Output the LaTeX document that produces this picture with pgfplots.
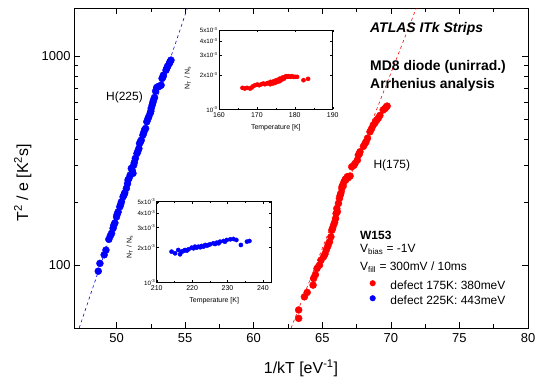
\documentclass[border=0pt]{standalone}
\usepackage{fontspec}
\setmainfont{Liberation Sans}
\usepackage{pgfplots}
\pgfplotsset{compat=1.18}
\definecolor{pred}{RGB}{255,0,0}
\definecolor{pblue}{RGB}{0,0,255}
\begin{document}
\begin{tikzpicture}
\begin{axis}[
  at={(0bp,0bp)}, anchor=south west,
  scale only axis, width=454bp, height=320bp,
  xmin=46.9, xmax=80, ymode=log, ymin=50, ymax=1700,
  xtick={50,55,...,80}, minor x tick num=1,
  ytick={100,1000}, yticklabels={100,1000},
  /pgf/number format/assume math mode=true,
  tick label style={font=\fontsize{13}{15}\selectfont},
  xticklabel style={yshift=-2bp},
  xlabel={1/kT [eV\textsuperscript{-1}]},
  ylabel={T\textsuperscript{2} / e [K\textsuperscript{2}s]},
  label style={font=\fontsize{16}{19}\selectfont},
  xlabel style={at={(axis description cs:0.5,-0.125)}, anchor=center},
  ylabel style={at={(axis description cs:-0.113,0.454)}, anchor=center},
  axis line style={line width=0.9pt},
  every tick/.style={line width=0.6pt, black},
  major tick length=6bp, minor tick length=4bp,
  legend style={draw=none, fill=none, at={(0.635,0.153)}, anchor=north west,
    inner sep=0pt, row sep=0bp, font=\fontsize{12}{14}\selectfont,
    nodes={inner sep=0.5bp, text height=10bp, text depth=4bp}},
  legend cell align=left,
  legend image code/.code={\draw[mark repeat=2,mark phase=2,#1,mark size=2.8bp] plot coordinates {(0bp,3.5bp)(10bp,3.5bp)(27bp,3.5bp)}; \path (0bp,0bp) (27bp,0bp);},
]
\addplot[pred, dashed, dash pattern=on 3bp off 3bp, line width=0.6pt, forget plot] coordinates {(62.73,50) (71.86,1700)};
\addplot[pblue, dashed, dash pattern=on 3bp off 3bp, line width=0.6pt, forget plot] coordinates {(47.28,50) (55.17,1700)};
\addplot[only marks, mark=*, mark size=3.5bp, pred] coordinates {
(63.28,55.6) (63.28,61.0) (63.70,70.5) (63.9,74) (64.33,80.2) (64.37,86.3) (64.5,90) (64.62,96.4) (64.8,100)
(64.91,105.6) (65.10,109.7) (65.2,113) (65.29,118) (65.39,122.5) (65.45,126) (65.53,129.4) (65.63,136.6)
(65.70,146.9) (65.75,150) (65.82,155.2) (65.9,160) (65.97,167.1) (66.01,176.6) (66.1,180) (66.06,186.6)
(66.18,197.3) (66.25,208.5) (66.3,215) (66.35,220.4) (66.43,232.9) (66.45,238) (66.50,241.5) (66.59,250.5)
(66.67,255.4) (66.7,258) (66.83,264.9) (66.9,262) (67.03,266.9) (67.15,295.4) (67.3,300) (67.39,306.6)
(67.56,318) (67.63,335.9) (67.7,340) (67.75,348.6) (68.0,370) (68.12,382) (68.19,389) (68.3,405)
(68.48,434.5) (68.6,450) (68.72,467.9) (68.85,480) (68.96,494.5) (69.08,503.7) (69.2,520) (69.44,552.5)
(69.55,560) (69.64,568.5) (69.73,576.8)};
\addlegendentry{defect 175K: 380meV}
\addplot[only marks, mark=*, mark size=3.5bp, pblue] coordinates {
(48.67,93.5) (48.79,101.9) (49.1,112) (49.23,118) (49.44,132.8) (49.55,138) (49.64,141.9) (49.75,150)
(49.8,155) (49.88,159.2) (50.00,170.2) (50.05,175) (50.12,179.8) (50.24,190.1) (50.3,195) (50.36,201)
(50.48,212.4) (50.55,217) (50.60,221.9) (50.72,232.9) (50.8,245) (50.84,255.4) (50.91,260.2) (51.0,270)
(51.08,290.4) (51.15,283) (51.20,274.8) (51.25,300.6) (51.3,310) (51.37,324.2) (51.49,342) (51.55,350)
(51.63,361.4) (51.68,382) (51.75,390) (51.80,396.3) (51.92,418.8) (51.98,430) (52.04,442.6) (52.12,450.8)
(52.21,485.3) (52.28,500) (52.35,512.6) (52.45,532) (52.5,545) (52.53,562.6) (52.60,583.2) (52.65,600)
(52.69,615.2) (52.77,634) (52.85,680) (52.93,708) (53.05,715) (53.13,718) (53.25,726) (53.32,782)
(53.38,795) (53.42,811) (53.61,857) (53.68,880) (53.73,896) (53.85,922) (53.9,940) (53.97,957)};
\addlegendentry{defect 225K: 443meV}
\end{axis}
% annotations (frame-relative positions)
\node[anchor=west, font=\fontsize{14}{16}\selectfont\bfseries\itshape, inner sep=0pt] at (296bp,298.7bp) {ATLAS ITk Strips};
\node[anchor=west, font=\fontsize{14}{16}\selectfont\bfseries, inner sep=0pt] at (296bp,261.3bp) {MD8 diode (unirrad.)};
\node[anchor=west, font=\fontsize{14}{16}\selectfont\bfseries, inner sep=0pt] at (296bp,243bp) {Arrhenius analysis};
\node[anchor=west, font=\fontsize{12}{14}\selectfont, inner sep=0pt] at (32bp,230.7bp) {H(225)};
\node[anchor=west, font=\fontsize{12}{14}\selectfont, inner sep=0pt] at (299.3bp,163bp) {H(175)};
\node[anchor=west, font=\fontsize{12}{14}\selectfont\bfseries, inner sep=0pt] at (286bp,93bp) {W153};
\node[anchor=west, font=\fontsize{12}{14}\selectfont, inner sep=0pt] at (286bp,78.7bp) {V\textsubscript{bias} = -1V};
\node[anchor=west, font=\fontsize{12}{14}\selectfont, inner sep=0pt] at (286bp,60.7bp) {V\textsubscript{fill} = 300mV / 10ms};
% upper inset
\begin{axis}[
  at={(145bp,218.7bp)}, anchor=south west,
  scale only axis, width=113.7bp, height=79.3bp,
  axis background/.style={fill=white},
  xmin=160, xmax=190, ymode=log, ymin=0.001, ymax=0.005,
  xtick={160,170,180,190}, minor x tick num=1,
  ytick={0.001,0.002,0.003,0.004,0.005},
  yticklabels={10\textsuperscript{-3},2x10\textsuperscript{-3},3x10\textsuperscript{-3},4x10\textsuperscript{-3},5x10\textsuperscript{-3}},
  /pgf/number format/assume math mode=true,
  xticklabel style={font=\fontsize{7}{8}\selectfont, inner sep=1.5bp, yshift=-1.5bp},
  yticklabel style={font=\fontsize{6.2}{7}\selectfont, inner sep=1.2bp},
  xlabel={Temperature [K]}, ylabel={N\textsubscript{T} / N\textsubscript{s}},
  label style={font=\fontsize{7}{8}\selectfont},
  xlabel style={at={(axis description cs:0.5,-0.232)}, anchor=center},
  ylabel style={at={(axis description cs:-0.275,0.395)}, anchor=center},
  axis line style={line width=0.8pt},
  every tick/.style={line width=0.4pt, black},
  major tick length=2.5bp, minor tick length=1.5bp,
]
\addplot[only marks, mark=*, mark size=2.1bp, pred] coordinates {
(166.2,1.545e-3) (166.8,1.524e-3) (167.4,1.545e-3) (168.2,1.524e-3) (168.6,1.555e-3) (169.0,1.598e-3)
(169.5,1.631e-3) (170.1,1.653e-3) (170.6,1.631e-3) (171.2,1.664e-3) (171.7,1.687e-3) (172.1,1.664e-3)
(172.6,1.687e-3) (173.0,1.710e-3) (173.5,1.664e-3) (173.6,1.746e-3) (174.2,1.687e-3) (174.5,1.769e-3)
(174.8,1.710e-3) (175.1,1.806e-3) (175.4,1.746e-3) (175.7,1.830e-3) (176.0,1.769e-3) (176.1,1.868e-3)
(176.6,1.830e-3) (176.8,1.906e-3) (177.2,1.868e-3) (177.4,1.932e-3) (177.7,1.959e-3) (178.1,1.932e-3)
(178.3,1.959e-3) (178.8,1.932e-3) (179.2,1.959e-3) (179.7,1.932e-3) (180.1,1.932e-3) (180.6,1.932e-3)
(182.3,1.806e-3) (183.5,1.855e-3)};
\end{axis}
% lower inset
\begin{axis}[
  at={(82.7bp,45.7bp)}, anchor=south west,
  scale only axis, width=115bp, height=80.6bp,
  axis background/.style={fill=white},
  xmin=210, xmax=242.5, ymode=log, ymin=0.001, ymax=0.005,
  xtick={210,220,230,240}, minor x tick num=1,
  ytick={0.001,0.002,0.003,0.004,0.005},
  yticklabels={10\textsuperscript{-3},2x10\textsuperscript{-3},3x10\textsuperscript{-3},4x10\textsuperscript{-3},5x10\textsuperscript{-3}},
  /pgf/number format/assume math mode=true,
  xticklabel style={font=\fontsize{7}{8}\selectfont, inner sep=1.5bp, yshift=-1.5bp},
  yticklabel style={font=\fontsize{6.2}{7}\selectfont, inner sep=1.2bp},
  xlabel={Temperature [K]}, ylabel={N\textsubscript{T} / N\textsubscript{s}},
  label style={font=\fontsize{7}{8}\selectfont},
  xlabel style={at={(axis description cs:0.5,-0.232)}, anchor=center},
  ylabel style={at={(axis description cs:-0.235,0.44)}, anchor=center},
  axis line style={line width=0.8pt},
  every tick/.style={line width=0.4pt, black},
  major tick length=2.5bp, minor tick length=1.5bp,
]
\addplot[only marks, mark=*, mark size=2.1bp, pblue] coordinates {
(214.2,1.845e-3) (215.2,1.784e-3) (216.1,1.906e-3) (216.6,1.749e-3) (217.1,1.845e-3) (217.5,1.869e-3)
(218.0,1.906e-3) (218.5,1.882e-3) (219.0,1.932e-3) (219.9,1.998e-3) (220.4,1.971e-3) (220.8,2.038e-3)
(221.3,1.998e-3) (221.8,2.038e-3) (222.3,2.012e-3) (222.7,2.066e-3) (223.2,2.038e-3) (223.7,2.107e-3)
(224.2,2.080e-3) (224.6,2.107e-3) (225.1,2.136e-3) (226.0,2.179e-3) (226.5,2.150e-3) (227.0,2.208e-3)
(227.5,2.179e-3) (227.9,2.252e-3) (228.9,2.282e-3) (229.3,2.252e-3) (229.8,2.328e-3) (230.8,2.360e-3)
(231.7,2.376e-3) (232.5,2.328e-3) (233.8,2.107e-3) (235.5,2.252e-3) (236.2,2.282e-3)};
\end{axis}
\pgfresetboundingbox
\path[use as bounding box] (-74bp,-53bp) rectangle (469bp,328bp);
\end{tikzpicture}
\end{document}
